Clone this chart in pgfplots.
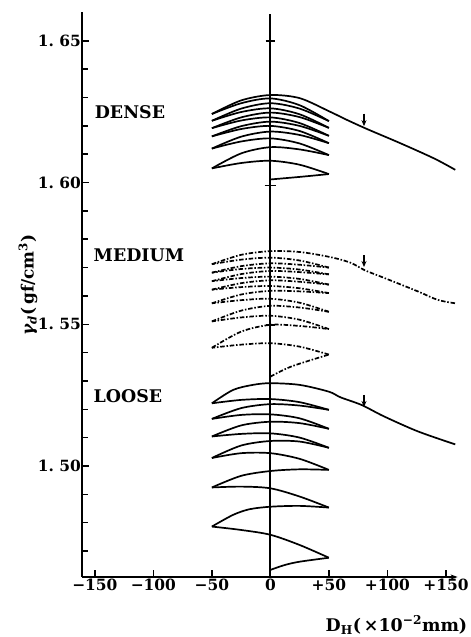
\documentclass[border=0pt]{standalone}
\usepackage{fontspec}
\setmainfont{DejaVu Serif}
\usepackage{pgfplots}
\pgfplotsset{compat=1.18}
\usetikzlibrary{arrows.meta}
\tikzset{
  dn/.style={black, line width=1.7bp, smooth},
  md/.style={black, line width=1.7bp, smooth, dash pattern=on 4.5bp off 1.8bp on 1.5bp off 1.8bp},
  ls/.style={black, line width=1.7bp, smooth},
  ar/.style={black, line width=1.3bp, -{Stealth[length=6bp,width=5bp]}},
}
\begin{document}
\begin{tikzpicture}
\useasboundingbox (-82bp,-60bp) rectangle (389bp,577bp);
\begin{axis}[
  at={(0,0)}, anchor=south west,
  scale only axis, width=375.6bp, height=565bp,
  xmin=-161, xmax=160, ymin=1.4608, ymax=1.6602,
  axis lines=left,
  axis line style={line width=2.5bp},
  x axis line style={-{Stealth[length=7bp,width=5bp]}},
  y axis line style={-},
  xtick={-150,-100,-50,0,50,100,150},
  xticklabels={−150,−100,−50,0,+50,+100,+150},
  ytick={1.50,1.55,1.60,1.65},
  yticklabels={1.\ 50,1.\ 55,1.\ 60,1.\ 65},
  minor ytick={1.47,1.48,1.49,1.51,1.52,1.53,1.54,1.56,1.57,1.58,1.59,1.61,1.62,1.63,1.64},
  tick style={line width=1.5bp, black},
  major tick length=7bp, minor tick length=6bp,
  tick align=inside,
  ticklabel style={font=\bfseries\fontsize{15.5}{17}\selectfont},
  yticklabel style={inner sep=1bp},
  xticklabel style={inner sep=2bp},
  ylabel={{\bfseries\itshape γ}\textsubscript{\bfseries\itshape d}(\,gf/cm\textsuperscript{3})},
  ylabel style={font=\bfseries\fontsize{17}{19}\selectfont, at={(axis description cs:-0.1438,0.517)}, anchor=center},
  xlabel={D\textsubscript{H}(\,×10\textsuperscript{−2}mm)},
  xlabel style={font=\bfseries\fontsize{17.5}{19}\selectfont, at={(axis description cs:1.035,-0.085)}, anchor=east},
  clip=false,
]
% zero line and marks
\addplot[black, line width=2.1bp] coordinates {(0,1.4608) (0,1.6595)};
\addplot[black, line width=1.6bp] coordinates {(-4,1.65) (4,1.65)};
\addplot[black, line width=1.6bp] coordinates {(-5,1.599) (5,1.599)};
\addplot[black, line width=2.6bp] coordinates {(-4,1.5498) (4,1.5498)};

% ---------------- DENSE ----------------
\addplot[dn] coordinates {(0,1.6011) (25,1.6020) (50,1.6030)};
\addplot[dn] coordinates {(50,1.6030) (25,1.6063) (0,1.6077) (-25,1.6069) (-50,1.6050)};
\addplot[dn] coordinates {(-50,1.6050) (-25,1.6103) (0,1.6125) (25,1.6117) (50,1.6097)};
\addplot[dn] coordinates {(50,1.6097) (25,1.6138) (0,1.6156) (-25,1.6145) (-50,1.6120)};
\addplot[dn] coordinates {(-50,1.6120) (-25,1.6162) (0,1.6180) (25,1.6168) (50,1.6139)};
\addplot[dn] coordinates {(50,1.6139) (25,1.6182) (0,1.6200) (-25,1.6189) (-50,1.6163)};
\addplot[dn] coordinates {(-50,1.6163) (-25,1.6199) (0,1.6215) (25,1.6200) (50,1.6165)};
\addplot[dn] coordinates {(50,1.6165) (25,1.6210) (0,1.6230) (-25,1.6219) (-50,1.6192)};
\addplot[dn] coordinates {(-50,1.6192) (-25,1.6230) (0,1.6247) (25,1.6231) (50,1.6193)};
\addplot[dn] coordinates {(50,1.6193) (25,1.6241) (0,1.6262) (-25,1.6249) (-50,1.6218)};
\addplot[dn] coordinates {(-50,1.6218) (-25,1.6261) (0,1.6280) (25,1.6261) (50,1.6217)};
\addplot[dn] coordinates {(50,1.6217) (25,1.6273) (0,1.6297) (-25,1.6280) (-50,1.6242)};
\addplot[dn] coordinates {(-50,1.6242) (-25,1.6290) (0,1.6309) (25,1.6298) (50,1.6252) (65,1.6222) (82,1.6190) (111,1.6139) (140,1.6085) (158,1.6045)};
\addplot[ar] coordinates {(80,1.6243) (80,1.6199)};

% ---------------- MEDIUM ----------------
\addplot[md] coordinates {(0,1.5315) (18,1.5351) (50,1.5393)};
\addplot[md] coordinates {(50,1.5393) (25,1.5421) (0,1.5433) (-25,1.5428) (-50,1.5417)};
\addplot[md] coordinates {(-50,1.5417) (-25,1.5474) (0,1.5498) (25,1.5494) (50,1.5483)};
\addplot[md] coordinates {(50,1.5483) (25,1.5516) (0,1.5530) (-25,1.5524) (-50,1.5510)};
\addplot[md] coordinates {(-50,1.5510) (-25,1.5548) (0,1.5565) (25,1.5559) (50,1.5544)};
\addplot[md] coordinates {(50,1.5544) (25,1.5576) (0,1.5590) (-25,1.5585) (-50,1.5574)};
\addplot[md] coordinates {(-50,1.5574) (-25,1.5605) (0,1.5618) (25,1.5616) (50,1.5610)};
\addplot[md] coordinates {(50,1.5610) (25,1.5627) (0,1.5635) (-25,1.5631) (-50,1.5622)};
\addplot[md] coordinates {(-50,1.5622) (-25,1.5645) (0,1.5655) (25,1.5650) (50,1.5640)};
\addplot[md] coordinates {(50,1.5640) (25,1.5660) (0,1.5668) (-25,1.5663) (-50,1.5652)};
\addplot[md] coordinates {(-50,1.5652) (-25,1.5677) (0,1.5688) (25,1.5684) (50,1.5676)};
\addplot[md] coordinates {(50,1.5676) (25,1.5693) (0,1.5700) (-25,1.5695) (-50,1.5682)};
\addplot[md] coordinates {(-50,1.5682) (-25,1.5705) (0,1.5715) (25,1.5710) (50,1.5700)};
\addplot[md] coordinates {(50,1.5700) (25,1.5725) (0,1.5735) (-25,1.5728) (-50,1.5712)};
\addplot[md] coordinates {(-50,1.5712) (-25,1.5745) (0,1.5758) (25,1.5755) (50,1.5738) (68,1.5718) (81,1.5690) (97,1.5664) (126,1.5616) (143,1.5586) (158,1.5574)};
\addplot[ar] coordinates {(80,1.5743) (80,1.5702)};

% ---------------- LOOSE ----------------
\addplot[ls] coordinates {(0,1.4633) (12,1.4650) (25,1.4662) (50,1.4676)};
\addplot[ls] coordinates {(50,1.4676) (25,1.4721) (0,1.4757) (-25,1.4774) (-50,1.4786)};
\addplot[ls] coordinates {(-50,1.4786) (-32,1.4827) (-18,1.4847) (0,1.4856) (25,1.4859) (50,1.4853)};
\addplot[ls] coordinates {(50,1.4853) (25,1.4892) (0,1.4921) (-25,1.4927) (-50,1.4924)};
\addplot[ls] coordinates {(-50,1.4924) (-25,1.4965) (0,1.4982) (25,1.4988) (50,1.4986)};
\addplot[ls] coordinates {(50,1.4986) (25,1.5025) (0,1.5045) (-25,1.5045) (-50,1.5028)};
\addplot[ls] coordinates {(-50,1.5028) (-25,1.5072) (0,1.5088) (25,1.5086) (50,1.5064)};
\addplot[ls] coordinates {(50,1.5064) (25,1.5100) (0,1.5115) (-25,1.5113) (-50,1.5104)};
\addplot[ls] coordinates {(-50,1.5104) (-25,1.5143) (0,1.5156) (25,1.5151) (50,1.5131)};
\addplot[ls] coordinates {(50,1.5131) (25,1.5168) (0,1.5182) (-25,1.5180) (-50,1.5166)};
\addplot[ls] coordinates {(-50,1.5166) (-25,1.5204) (0,1.5218) (25,1.5213) (50,1.5198)};
\addplot[ls] coordinates {(50,1.5198) (25,1.5225) (0,1.5236) (-25,1.5233) (-50,1.5221)};
\addplot[ls] coordinates {(-50,1.5221) (-32,1.5268) (-15,1.5286) (0,1.5292) (25,1.5286) (50,1.5262) (60,1.5242) (78,1.5215) (97,1.5175) (126,1.5122) (158,1.5076)};
\addplot[ar] coordinates {(80,1.5251) (80,1.5208)};

% group labels
\node[anchor=west, font=\bfseries\fontsize{17.5}{20}\selectfont] at (axis cs:-153,1.6250) {DENSE};
\node[anchor=west, font=\bfseries\fontsize{17.5}{20}\selectfont] at (axis cs:-154,1.5745) {MEDIUM};
\node[anchor=west, font=\bfseries\fontsize{17.5}{20}\selectfont] at (axis cs:-154,1.5247) {LOOSE};
\end{axis}
\end{tikzpicture}
\end{document}
